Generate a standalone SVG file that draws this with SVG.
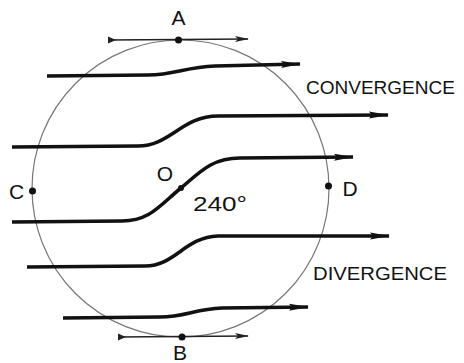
<svg xmlns="http://www.w3.org/2000/svg" width="464" height="363" viewBox="0 0 464 363">
<style>
.stream{fill:none;stroke:#111;stroke-width:3.6;stroke-linecap:butt;marker-end:url(#big)}
.tan{fill:none;stroke:#222;stroke-width:1.5;marker-start:url(#tail);marker-end:url(#small)}
.lbl{font-family:"Liberation Sans",Arial,sans-serif;font-size:21px;fill:#111}
.word{font-family:"Liberation Sans",Arial,sans-serif;font-size:19px;fill:#111}
.dot{fill:#111}
</style>
<defs>
<marker id="big" viewBox="0 0 20 10" refX="19" refY="5" markerWidth="20" markerHeight="10" markerUnits="userSpaceOnUse" orient="auto">
<path d="M0,1.5 L20,5 L0,8.5 L3,5 Z" fill="#111"/>
</marker>
<marker id="small" viewBox="0 0 14 8" refX="13" refY="4" markerWidth="14" markerHeight="8" markerUnits="userSpaceOnUse" orient="auto">
<path d="M0,1 L14,4 L0,7 L3,4 Z" fill="#222"/>
</marker>
<marker id="tail" viewBox="0 0 8 8" refX="0" refY="4" markerWidth="8" markerHeight="8" markerUnits="userSpaceOnUse" orient="auto">
<path d="M0,0.5 L8,4 L0,7.5 Z" fill="#222"/>
</marker>
</defs>
<g id="circle">
<circle cx="180.5" cy="188.5" r="148.5" fill="none" stroke="#777" stroke-width="1.2"/>
</g>
<g id="connectors">
<path class="stream" d="M47,76 L148,75 C175,75 185,67 215,66 L300,64"/>
<path class="stream" d="M12,147 L138,146 C170,146 182,116 218,116 L388,115"/>
<path class="stream" d="M12,222 L122,221 C150,221 160,205 181,188 C200,172 212,158 240,158 L353,157"/>
<path class="stream" d="M27,267 L145,266 C175,266 185,237 218,236 L389,236"/>
<path class="stream" d="M63,318 L160,317 C185,317 195,309 222,308 L308,307"/>
<path class="tan" d="M108,40 L248,39"/>
<path class="tan" d="M118,337 L248,336"/>
</g>
<g id="node-A">
<circle class="dot" cx="178.5" cy="40" r="3.5"/>
<text class="lbl" x="178.5" y="25" text-anchor="middle">A</text>
</g>
<g id="node-B">
<circle class="dot" cx="182" cy="337" r="3.5"/>
<text class="lbl" x="180" y="360" text-anchor="middle">B</text>
</g>
<g id="node-C">
<circle class="dot" cx="32.5" cy="191" r="3.5"/>
<text class="lbl" x="16.5" y="199" text-anchor="middle">C</text>
</g>
<g id="node-D">
<circle class="dot" cx="328.5" cy="186" r="3.5"/>
<text class="lbl" x="350" y="196" text-anchor="middle">D</text>
</g>
<g id="node-O">
<circle class="dot" cx="181" cy="188" r="3"/>
<text class="lbl" x="165" y="181" text-anchor="middle">O</text>
<text class="lbl" x="193" y="211" textLength="54" lengthAdjust="spacingAndGlyphs">240°</text>
</g>
<g id="labels">
<text class="word" x="306" y="94">CONVERGENCE</text>
<text class="word" x="313" y="280" textLength="134" lengthAdjust="spacingAndGlyphs">DIVERGENCE</text>
</g>
</svg>
